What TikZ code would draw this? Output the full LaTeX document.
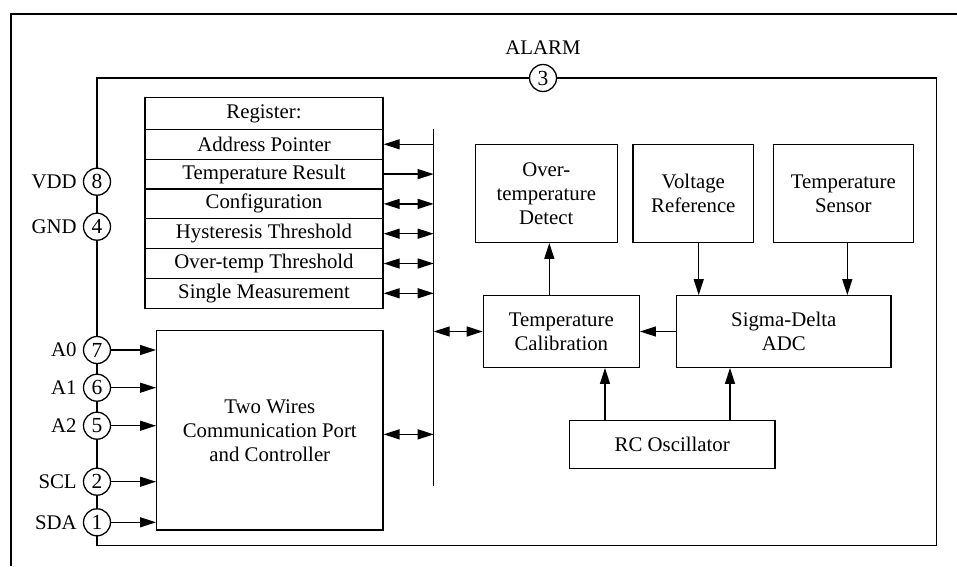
\documentclass[tikz,border=0pt]{standalone}
\usepackage{fontspec}
\setmainfont{Liberation Serif}
\usetikzlibrary{arrows.meta}
\begin{document}
\begin{tikzpicture}[x=1pt,y=-1pt,
  txt/.style={font=\fontsize{20.8}{24}\selectfont, inner sep=0pt},
  box/.style={draw, line width=1.3pt, align=center, inner sep=0pt, font=\fontsize{20.8}{24}\selectfont},
  pin/.style={draw, circle, line width=1.3pt, minimum size=27pt, inner sep=0pt, font=\fontsize{21.5}{24}\selectfont},
  wire/.style={line width=1.3pt},
  arr/.style={wire, -{Triangle[length=16pt,width=10pt]}},
  darr/.style={wire, {Triangle[length=16pt,width=10pt]}-{Triangle[length=16pt,width=10pt]}}
]
\useasboundingbox (0,0) rectangle (957,566);
% outer frame
\draw[line width=2.2pt] (11,566) -- (11,14) -- (957,14);

% register table
\node[box, minimum width=238pt, minimum height=31.6pt] (r0) at (264,113.5) {Register:};
\node[box, minimum width=238pt, minimum height=29.8pt] (r1) at (264,144.3) {Address Pointer};
\node[box, minimum width=238pt, minimum height=29.8pt] (r2) at (264,174.1) {Temperature Result};
\node[box, minimum width=238pt, minimum height=29.8pt] (r3) at (264,203.9) {Configuration};
\node[box, minimum width=238pt, minimum height=29.8pt] (r4) at (264,233.7) {Hysteresis Threshold};
\node[box, minimum width=238pt, minimum height=29.8pt] (r5) at (264,263.5) {Over-temp Threshold};
\node[box, minimum width=238pt, minimum height=29.8pt] (r6) at (264,293.3) {Single Measurement};

% bus
\coordinate (bt) at (433.7,129.3);
\coordinate (bb) at (433.7,486);
\draw[wire] (bt) -- (bb);
\draw[arr] (r1.east -| bt) -- (r1.east);
\draw[arr] (r2.east) -- (r2.east -| bt);
\draw[darr] (r3.east) -- (r3.east -| bt);
\draw[darr] (r4.east) -- (r4.east -| bt);
\draw[darr] (r5.east) -- (r5.east -| bt);
\draw[darr] (r6.east) -- (r6.east -| bt);

% blocks
\node[box, minimum width=226.3pt, minimum height=199.3pt] (tw) at (269.8,430.35) {Two Wires\\Communication Port\\and Controller};
\node[box, minimum width=142pt, minimum height=98pt] (otd) at (546.3,193.3) {Over-\\temperature\\Detect};
\node[box, minimum width=120.7pt, minimum height=98pt] (vr) at (693.3,193.3) {Voltage\\Reference};
\node[box, minimum width=140pt, minimum height=98pt] (ts) at (843.3,193.3) {Temperature\\Sensor};
\node[box, minimum width=156pt, minimum height=71.6pt] (tc) at (561.3,331.5) {Temperature\\Calibration};
\node[box, minimum width=214.3pt, minimum height=71.6pt] (adc) at (783.8,331.5) {Sigma-Delta\\ADC};
\node[box, minimum width=205.7pt, minimum height=47.6pt] (rc) at (672.2,444.5) {RC Oscillator};

\draw[darr] (tc.west -| bt) -- (tc.west);
\draw[darr] ([yshift=-4pt]tw.east) -- ([yshift=-4pt]tw.east -| bt);
\draw[arr] (adc.west) -- (tc.east);
\draw[arr] ([xshift=-12pt]tc.north) -- ([xshift=-12pt]tc.north |- otd.south);
\draw[arr] ([xshift=5.4pt]vr.south) -- ([xshift=5.4pt]vr.south |- adc.north);
\draw[arr] ([xshift=4pt]ts.south) -- ([xshift=4pt]ts.south |- adc.north);
\draw[arr] ([xshift=-67.2pt]rc.north) -- ([xshift=-67.2pt]rc.north |- tc.south);
\draw[arr] ([xshift=57.8pt]rc.north) -- ([xshift=57.8pt]rc.north |- adc.south);

% pins
\node[pin] (p3) at (543,78) {3};
\node[txt] (alarm) at (543,48) {ALARM};
\node[pin] (p8) at (97,181.7) {8};
\node[pin] (p4) at (97,226.7) {4};
\node[pin] (p7) at (97,350) {7};
\node[pin] (p6) at (97,387.7) {6};
\node[pin] (p5) at (97,425.7) {5};
\node[pin] (p2) at (97,481.7) {2};
\node[pin] (p1) at (97,522.3) {1};
\node[txt, anchor=east] (l8) at ([xshift=-6pt]p8.west) {VDD};
\node[txt, anchor=east] (l4) at ([xshift=-6pt]p4.west) {GND};
\node[txt, anchor=east] (l7) at ([xshift=-6pt]p7.west) {A0};
\node[txt, anchor=east] (l6) at ([xshift=-6pt]p6.west) {A1};
\node[txt, anchor=east] (l5) at ([xshift=-6pt]p5.west) {A2};
\node[txt, anchor=east] (l2) at ([xshift=-6pt]p2.west) {SCL};
\node[txt, anchor=east] (l1) at ([xshift=-6pt]p1.west) {SDA};

% chip outline
\coordinate (ctl) at (97,78);
\coordinate (ctr) at (936.7,78);
\coordinate (cbr) at (936.7,545.7);
\coordinate (cbl) at (97,545.7);
\draw[wire] (p8.north) -- (ctl) -- (p3.west);
\draw[wire] (p3.east) -- (ctr) -- (cbr) -- (cbl) -- (p1.south);
\draw[wire] (p8.south) -- (p4.north);
\draw[wire] (p4.south) -- (p7.north);
\draw[wire] (p7.south) -- (p6.north);
\draw[wire] (p6.south) -- (p5.north);
\draw[wire] (p5.south) -- (p2.north);
\draw[wire] (p2.south) -- (p1.north);

% pin arrows
\draw[arr] (p7.east) -- (p7.east -| tw.west);
\draw[arr] (p6.east) -- (p6.east -| tw.west);
\draw[arr] (p5.east) -- (p5.east -| tw.west);
\draw[arr] (p2.east) -- (p2.east -| tw.west);
\draw[arr] (p1.east) -- (p1.east -| tw.west);
\end{tikzpicture}
\end{document}
